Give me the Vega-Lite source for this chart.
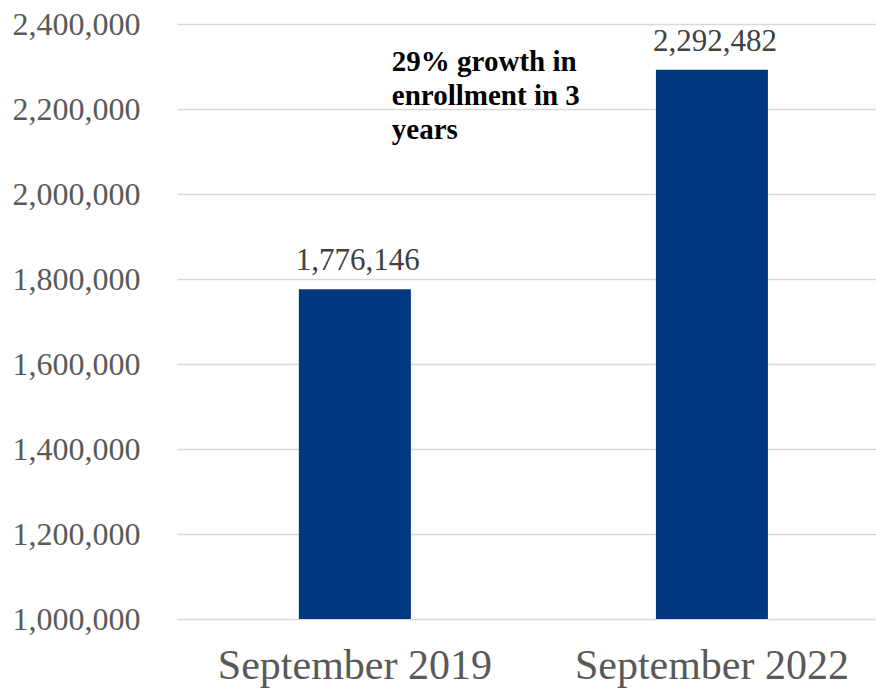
{
  "$schema": "https://vega.github.io/schema/vega-lite/v6.json",
  "autosize": "none",
  "width": 699,
  "height": 595,
  "padding": {"left": 177, "top": 24, "right": 0, "bottom": 70},
  "background": "white",
  "config": {
    "view": {"stroke": null},
    "font": "Liberation Serif"
  },
  "datasets": {
    "bars": [
      {"period": "September 2019", "enrollment": 1776146},
      {"period": "September 2022", "enrollment": 2292482}
    ],
    "note": [
      {"period": "September 2019", "enrollment": 2290000, "text": ["29% growth in", "enrollment in 3", "years"]}
    ]
  },
  "encoding": {
    "x": {
      "field": "period",
      "type": "nominal",
      "scale": {"domain": ["September 2019", "September 2022"], "paddingInner": 0.6863, "paddingOuter": 0.322, "align": 0.53},
      "axis": {
        "title": null,
        "labelAngle": 0,
        "labelFont": "Liberation Serif",
        "labelFontSize": 42,
        "labelColor": "#595959",
        "labelPadding": 26,
        "labelLimit": 0,
        "labelOverlap": false,
        "ticks": false,
        "domain": false,
        "grid": false
      }
    }
  },
  "layer": [
    {
      "data": {"name": "bars"},
      "mark": {"type": "bar", "color": "#003882"},
      "encoding": {
        "y": {
          "field": "enrollment",
          "type": "quantitative",
          "scale": {"domain": [1000000, 2400000], "zero": false, "nice": false},
          "axis": {
            "title": null,
            "values": [1000000, 1200000, 1400000, 1600000, 1800000, 2000000, 2200000, 2400000],
            "format": ",d",
            "labelFont": "Liberation Serif",
            "labelFontSize": 32,
            "labelColor": "#595959",
            "labelPadding": 37,
            "labelLimit": 0,
            "ticks": false,
            "domain": false,
            "grid": true,
            "gridColor": "#d9d9d9",
            "gridWidth": 1.5
          }
        },
        "y2": {"datum": 1000000}
      }
    },
    {
      "data": {"name": "bars"},
      "mark": {"type": "text", "font": "Liberation Serif", "fontSize": 31, "color": "#404040", "baseline": "alphabetic", "align": "center", "dy": -19, "dx": 3},
      "encoding": {
        "y": {"field": "enrollment", "type": "quantitative"},
        "text": {"field": "enrollment", "type": "quantitative", "format": ",d"}
      }
    },
    {
      "data": {"name": "note"},
      "mark": {"type": "text", "font": "Liberation Serif", "fontSize": 29, "fontWeight": "bold", "color": "#000000", "baseline": "alphabetic", "align": "left", "dx": 37, "lineHeight": 34},
      "encoding": {
        "y": {"field": "enrollment", "type": "quantitative"},
        "text": {"field": "text"}
      }
    }
  ]
}
